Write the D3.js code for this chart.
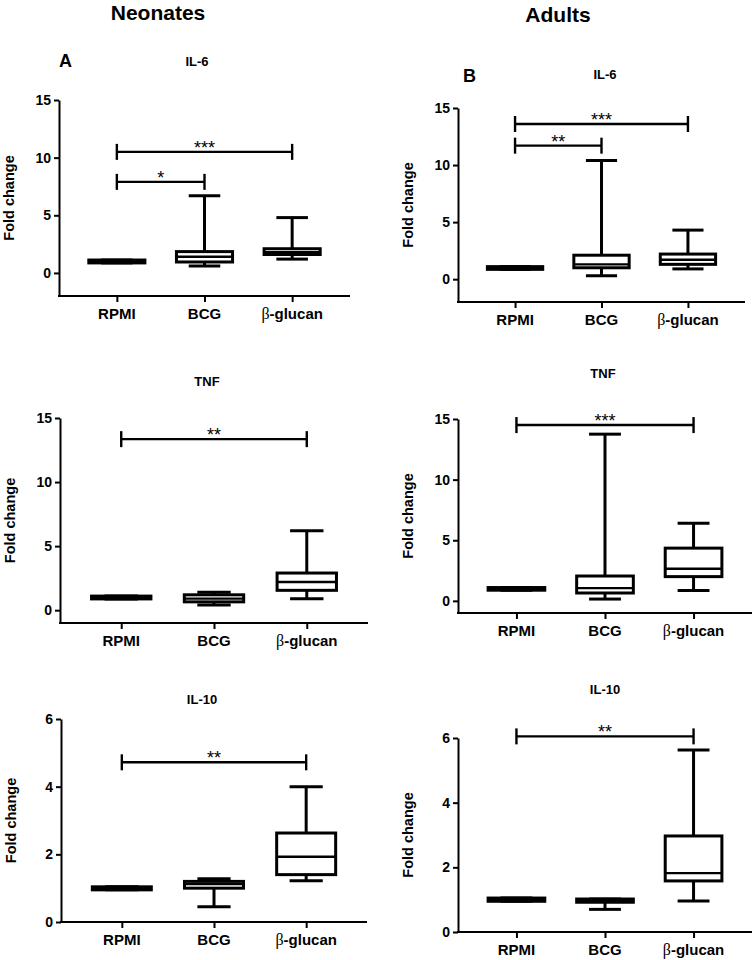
<!DOCTYPE html>
<html>
<head>
<meta charset="utf-8">
<script src="https://cdn.jsdelivr.net/npm/d3@7"></script>
<style>
  body { margin: 0; background: #fff; }
  svg { display: block; font-family: "Liberation Sans", Arial, sans-serif; }
  .tk text { font-family: "Liberation Sans", Arial, sans-serif; font-size: 14px; font-weight: bold; fill: #000; }
</style>
</head>
<body>
<svg id="fig" width="755" height="960"></svg>
<script>
// groups along x
var categories = ["RPMI", "BCG", "β-glucan"];

// box stats per group: [min, q1, median, q3, max]
var neonatesIL6  = [[0.87, 0.87, 1.0, 1.12, 1.12], [0.6, 0.95, 1.4, 1.85, 6.7], [1.2, 1.6, 1.8, 2.1, 4.8]];
var adultsIL6    = [[0.86, 0.86, 1.0, 1.1, 1.1], [0.3, 1.0, 1.3, 2.1, 10.4], [0.9, 1.3, 1.7, 2.2, 4.3]];
var neonatesTNF  = [[0.88, 0.88, 1.0, 1.1, 1.1], [0.4, 0.65, 0.9, 1.2, 1.4], [0.9, 1.55, 2.2, 2.9, 6.2]];
var adultsTNF    = [[0.88, 0.88, 1.0, 1.1, 1.1], [0.15, 0.65, 1.05, 2.05, 13.75], [0.85, 2.0, 2.65, 4.35, 6.4]];
var neonatesIL10 = [[0.95, 0.95, 1.0, 1.04, 1.04], [0.45, 1.0, 1.12, 1.2, 1.28], [1.22, 1.4, 1.93, 2.63, 4.0]];
var adultsIL10   = [[0.95, 0.95, 1.0, 1.05, 1.05], [0.7, 0.92, 0.97, 1.02, 1.02], [0.96, 1.58, 1.82, 2.97, 5.63]];

// significance brackets: [fromGroup, toGroup, value, stars]
var sigNeoIL6  = [[0, 2, 10.5, "***"], [0, 1, 7.9, "*"]];
var sigAduIL6  = [[0, 2, 13.6, "***"], [0, 1, 11.7, "**"]];
var sigNeoTNF  = [[0, 2, 13.35, "**"]];
var sigAduTNF  = [[0, 2, 14.5, "***"]];
var sigNeoIL10 = [[0, 2, 4.72, "**"]];
var sigAduIL10 = [[0, 2, 6.05, "**"]];

var ticksWide = [0, 5, 10, 15];
var ticksNarrow = [0, 2, 4, 6];

var panels = [
    {title: "IL-6",  letter: "A", box: neonatesIL6,  sig: sigNeoIL6,  ticks: ticksWide,   domain: [-2, 15],
     left: 59,  right: 350, top: 100, bottom: 296, titleX: 197, titleY: 66, letterX: 59,  letterY: 67},
    {title: "IL-6",  letter: "B", box: adultsIL6,    sig: sigAduIL6,  ticks: ticksWide,   domain: [-2, 15],
     left: 458, right: 745, top: 108, bottom: 302, titleX: 605, titleY: 79, letterX: 463, letterY: 82},
    {title: "TNF",   box: neonatesTNF,  sig: sigNeoTNF,  ticks: ticksWide,   domain: [-1, 15],
     left: 60,  right: 368, top: 418, bottom: 623, titleX: 207, titleY: 386},
    {title: "TNF",   box: adultsTNF,    sig: sigAduTNF,  ticks: ticksWide,   domain: [-1, 15],
     left: 458, right: 752, top: 419, bottom: 613, titleX: 603, titleY: 378},
    {title: "IL-10", box: neonatesIL10, sig: sigNeoIL10, ticks: ticksNarrow, domain: [0, 6],
     left: 61,  right: 367, top: 719, bottom: 922, titleX: 202, titleY: 704},
    {title: "IL-10", box: adultsIL10,   sig: sigAduIL10, ticks: ticksNarrow, domain: [0, 6],
     left: 458, right: 752, top: 738, bottom: 932, titleX: 605, titleY: 694}
];

var svg = d3.select("#fig");

svg.append("text").attr("x", 158).attr("y", 20).attr("text-anchor", "middle")
    .attr("font-size", 21).attr("font-weight", "bold").text("Neonates");
svg.append("text").attr("x", 558).attr("y", 22).attr("text-anchor", "middle")
    .attr("font-size", 21).attr("font-weight", "bold").text("Adults");

function drawPanel(p) {
    var g = svg.append("g");
    var x = d3.scalePoint().domain(categories).range([p.left, p.right]).padding(0.66);
    var y = d3.scaleLinear().domain(p.domain).range([p.bottom, p.top]);
    var step = x.step();
    var boxW = step * 0.64;
    var capW = step * 0.36;

    // y axis
    var yAxis = g.append("g").attr("class", "tk").attr("transform", "translate(" + p.left + ",0)")
        .call(d3.axisLeft(y).tickValues(p.ticks).tickFormat(d3.format("d"))
            .tickSize(5).tickPadding(3).tickSizeOuter(0));
    yAxis.select(".domain").attr("stroke-width", 2);
    yAxis.selectAll(".tick line").attr("stroke-width", 2);

    // x axis
    var xAxis = g.append("g").attr("transform", "translate(0," + p.bottom + ")")
        .call(d3.axisBottom(x).tickSize(6).tickSizeOuter(0).tickFormat(""));
    xAxis.select(".domain").attr("stroke-width", 2)
        .attr("d", "M" + (p.left - 1) + ",0H" + p.right);
    xAxis.selectAll(".tick line").attr("stroke-width", 2);

    categories.forEach(function (c) {
        var t = g.append("text").attr("x", x(c)).attr("y", p.bottom + 23)
            .attr("text-anchor", "middle").attr("font-size", 15).attr("font-weight", "bold");
        if (c.charAt(0) === "β") {
            t.append("tspan").attr("font-family", "Liberation Serif, Times New Roman, serif")
                .attr("font-weight", "normal").attr("font-size", 16).text("β");
            t.append("tspan").text(c.slice(1));
        } else {
            t.text(c);
        }
    });

    // y label
    g.append("text")
        .attr("transform", "translate(" + (p.left - 45) + "," + ((p.top + p.bottom) / 2) + ") rotate(-90)")
        .attr("text-anchor", "middle").attr("font-size", 14.5).attr("font-weight", "bold")
        .text("Fold change");

    // titles
    g.append("text").attr("x", p.titleX).attr("y", p.titleY).attr("text-anchor", "middle")
        .attr("font-size", 13).attr("font-weight", "bold").text(p.title);
    if (p.letter) {
        g.append("text").attr("x", p.letterX).attr("y", p.letterY)
            .attr("font-size", 18).attr("font-weight", "bold").text(p.letter);
    }

    // boxes
    var boxes = g.selectAll(".bx").data(p.box).enter().append("g")
        .attr("stroke", "#000").attr("stroke-width", 3).attr("fill", "none");
    boxes.each(function (d, i) {
        var cx = x(categories[i]);
        var b = d3.select(this);
        b.append("line").attr("x1", cx).attr("x2", cx).attr("y1", y(d[4])).attr("y2", y(d[3]));
        b.append("line").attr("x1", cx).attr("x2", cx).attr("y1", y(d[1])).attr("y2", y(d[0]));
        b.append("line").attr("x1", cx - capW / 2).attr("x2", cx + capW / 2).attr("y1", y(d[4])).attr("y2", y(d[4]));
        b.append("line").attr("x1", cx - capW / 2).attr("x2", cx + capW / 2).attr("y1", y(d[0])).attr("y2", y(d[0]));
        b.append("rect").attr("x", cx - boxW / 2).attr("width", boxW)
            .attr("y", y(d[3])).attr("height", Math.max(0, y(d[1]) - y(d[3])));
        b.append("line").attr("x1", cx - boxW / 2).attr("x2", cx + boxW / 2).attr("y1", y(d[2])).attr("y2", y(d[2]))
            .attr("stroke-width", 2.4);
    });

    // significance brackets
    p.sig.forEach(function (s) {
        var x1 = x(categories[s[0]]), x2 = x(categories[s[1]]), yy = y(s[2]);
        var sg = g.append("g").attr("stroke", "#000").attr("stroke-width", 2.4);
        sg.append("line").attr("x1", x1).attr("x2", x2).attr("y1", yy).attr("y2", yy);
        sg.append("line").attr("x1", x1).attr("x2", x1).attr("y1", yy - 8).attr("y2", yy + 8);
        sg.append("line").attr("x1", x2).attr("x2", x2).attr("y1", yy - 8).attr("y2", yy + 8);
        g.append("text").attr("x", (x1 + x2) / 2).attr("y", yy + 2).attr("text-anchor", "middle")
            .attr("font-size", 18).text(s[3]);
    });
}

panels.forEach(drawPanel);
</script>
</body>
</html>
